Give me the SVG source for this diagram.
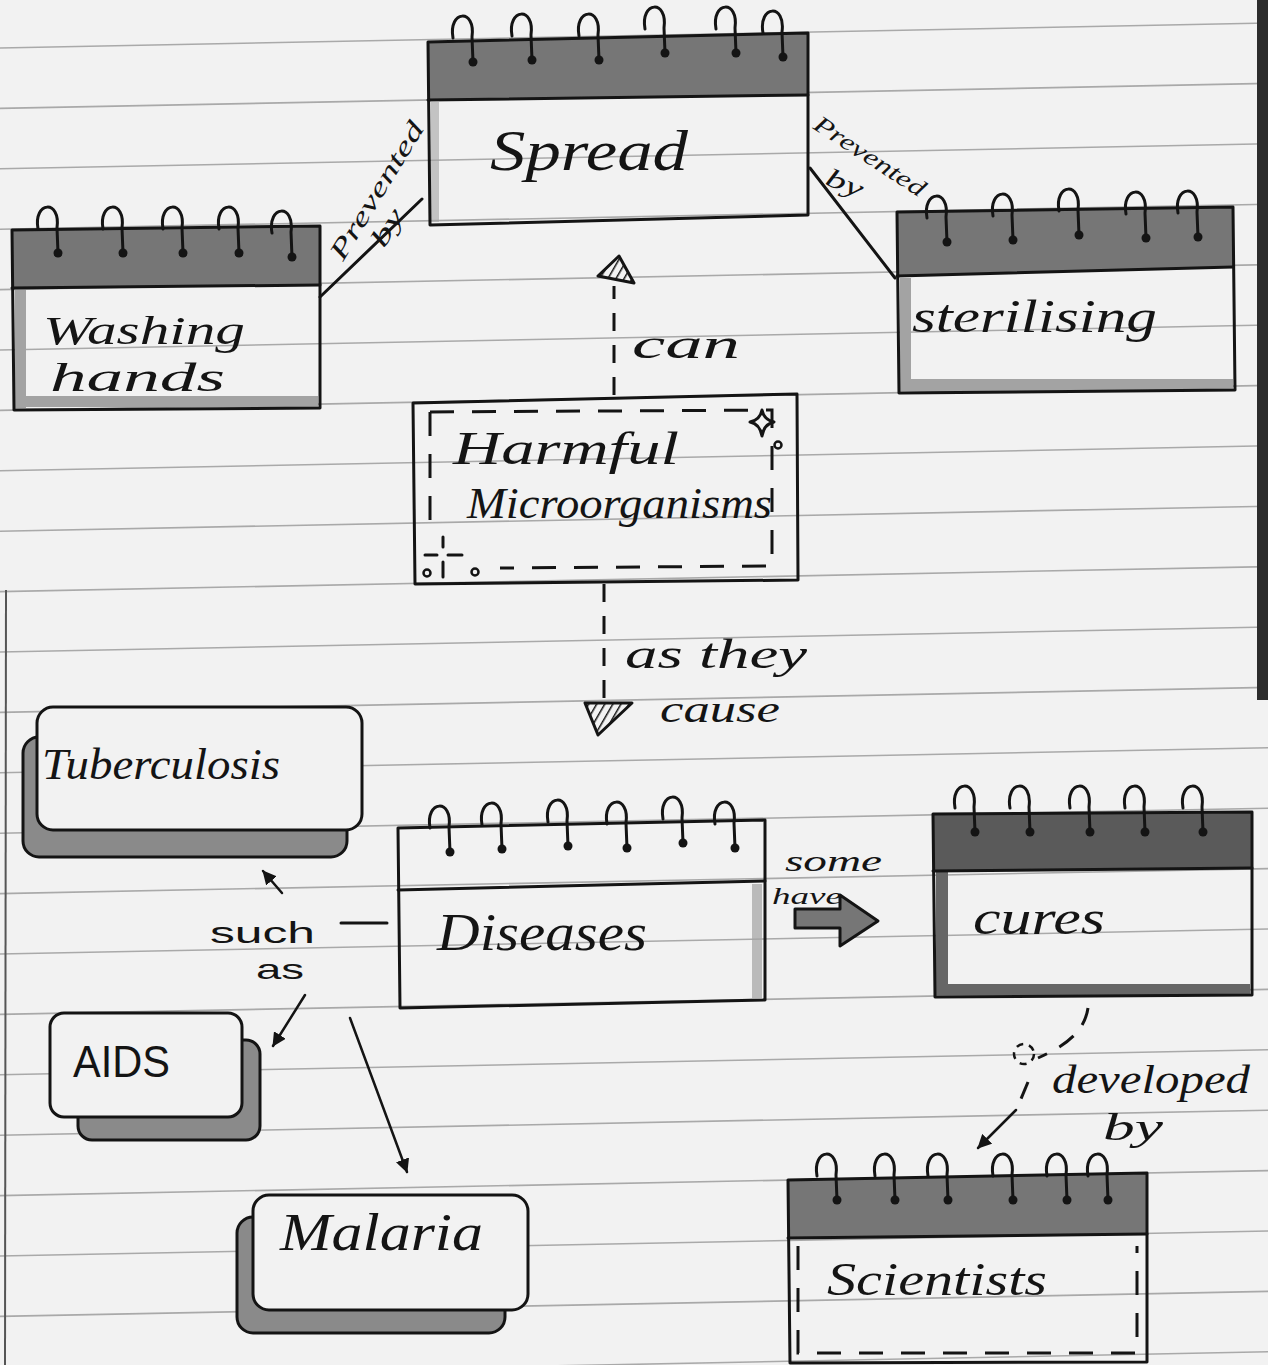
<svg xmlns="http://www.w3.org/2000/svg" width="1268" height="1365" viewBox="0 0 1268 1365">
<style>
.ln{stroke:#141414;stroke-width:3;fill:none;stroke-linecap:round;stroke-linejoin:round}
.thin{stroke:#141414;stroke-width:2.5;fill:none;stroke-linecap:round}
.dash{stroke:#141414;stroke-width:3;fill:none;stroke-dasharray:18 14}
.idash{stroke:#141414;stroke-width:3;fill:none;stroke-dasharray:24 18}
.rule{stroke:#a9a9a9;stroke-width:1.6}
.hdr{fill:#767676}
.hdrd{fill:#5a5a5a}
.shade{fill:#a3a3a3}
.shaded{fill:#666}
.shadow{fill:#8a8a8a;stroke:#141414;stroke-width:3}
.front{fill:#f2f2f2;stroke:#141414;stroke-width:3}
.hw{font-family:"Liberation Serif",serif;font-style:italic;fill:#141414}
.pr{font-family:"Liberation Sans",sans-serif;fill:#141414}
</style>
<defs>
<g id="ring">
<path d="M-20,-24 C-25,-52 3,-54 -1,-25 L0,0" class="ln"/>
<circle cx="0" cy="0" r="4.5" fill="#141414"/>
</g>
<pattern id="hatch" width="7" height="7" patternUnits="userSpaceOnUse" patternTransform="rotate(30)">
<rect width="7" height="7" fill="#f2f2f2"/>
<line x1="0" y1="0" x2="0" y2="7" stroke="#141414" stroke-width="3"/>
</pattern>
<marker id="ah" markerWidth="16" markerHeight="14" refX="13" refY="7" orient="auto" markerUnits="userSpaceOnUse">
<path d="M0,0 L14,7 L0,14 Z" fill="#141414"/>
</marker>
</defs>

<rect width="1268" height="1365" fill="#f2f2f2"/>
<g id="paper">
<line class="rule" x1="0" y1="48" x2="1268" y2="23"/>
<line class="rule" x1="0" y1="108.4" x2="1268" y2="83.4"/>
<line class="rule" x1="0" y1="168.8" x2="1268" y2="143.8"/>
<line class="rule" x1="0" y1="229.2" x2="1268" y2="204.2"/>
<line class="rule" x1="0" y1="289.6" x2="1268" y2="264.6"/>
<line class="rule" x1="0" y1="350" x2="1268" y2="325"/>
<line class="rule" x1="0" y1="410.4" x2="1268" y2="385.4"/>
<line class="rule" x1="0" y1="470.8" x2="1268" y2="445.8"/>
<line class="rule" x1="0" y1="531.2" x2="1268" y2="506.2"/>
<line class="rule" x1="0" y1="591.6" x2="1268" y2="566.6"/>
<line class="rule" x1="0" y1="652" x2="1268" y2="627"/>
<line class="rule" x1="0" y1="712.4" x2="1268" y2="687.4"/>
<line class="rule" x1="0" y1="772.8" x2="1268" y2="747.8"/>
<line class="rule" x1="0" y1="833.2" x2="1268" y2="808.2"/>
<line class="rule" x1="0" y1="893.6" x2="1268" y2="868.6"/>
<line class="rule" x1="0" y1="954" x2="1268" y2="929"/>
<line class="rule" x1="0" y1="1014.4" x2="1268" y2="989.4"/>
<line class="rule" x1="0" y1="1074.8" x2="1268" y2="1049.8"/>
<line class="rule" x1="0" y1="1135.2" x2="1268" y2="1110.2"/>
<line class="rule" x1="0" y1="1195.6" x2="1268" y2="1170.6"/>
<line class="rule" x1="0" y1="1256" x2="1268" y2="1231"/>
<line class="rule" x1="0" y1="1316.4" x2="1268" y2="1291.4"/>
<line class="rule" x1="0" y1="1376.8" x2="1268" y2="1351.8"/>
<line x1="6" y1="590" x2="5" y2="1365" stroke="#555" stroke-width="2"/>
<rect x="1257" y="0" width="11" height="700" fill="#2c2c2c"/>
</g>

<g id="connectors">
<line class="ln" x1="320" y1="297" x2="422" y2="199"/>
<line class="ln" x1="810" y1="168" x2="895" y2="278"/>
<line class="dash" x1="614" y1="395" x2="614" y2="286"/>
<polygon points="619,256 598,276 634,283" fill="url(#hatch)" stroke="#141414" stroke-width="3" stroke-linejoin="round"/>
<line class="dash" x1="604" y1="584" x2="604" y2="702"/>
<polygon points="585,703 632,703 598,735" fill="url(#hatch)" stroke="#141414" stroke-width="3" stroke-linejoin="round"/>
<line class="ln" x1="341" y1="923" x2="387" y2="923"/>
<line class="thin" x1="282" y1="893" x2="263" y2="871" marker-end="url(#ah)"/>
<line class="thin" x1="305" y1="995" x2="273" y2="1046" marker-end="url(#ah)"/>
<line class="thin" x1="350" y1="1018" x2="407" y2="1172" marker-end="url(#ah)"/>
<polygon points="795,909 840,909 840,895 878,921 840,946 840,928 795,928" fill="#767676" stroke="#141414" stroke-width="3" stroke-linejoin="round"/>
<path class="dash" d="M1088,1008 C1084,1035 1060,1048 1038,1058"/>
<circle cx="1024" cy="1054" r="10" fill="none" stroke="#141414" stroke-width="2.5" stroke-dasharray="7 6"/>
<path class="dash" d="M1028,1082 L1018,1106"/>
<line class="thin" x1="1016" y1="1110" x2="978" y2="1148" marker-end="url(#ah)"/>
<text class="hw" font-size="26" x="343" y="262" textLength="157" lengthAdjust="spacingAndGlyphs" transform="rotate(-58.5 343 262)">Prevented</text>
<text class="hw" font-size="26" x="384" y="249" textLength="40" lengthAdjust="spacingAndGlyphs" transform="rotate(-58.5 384 249)">by</text>
<text class="hw" font-size="24" x="812" y="128" textLength="128" lengthAdjust="spacingAndGlyphs" transform="rotate(33 812 128)">Prevented</text>
<text class="hw" font-size="26" x="824" y="184" textLength="38" lengthAdjust="spacingAndGlyphs" transform="rotate(22 824 184)">by</text>
<text class="hw" font-size="42" x="632" y="358" textLength="108" lengthAdjust="spacingAndGlyphs">can</text>
<text class="hw" font-size="42" x="625" y="668" textLength="182" lengthAdjust="spacingAndGlyphs">as they</text>
<text class="hw" font-size="38" x="660" y="722" textLength="120" lengthAdjust="spacingAndGlyphs">cause</text>
<text class="pr" font-size="30" x="210" y="943" textLength="105" lengthAdjust="spacingAndGlyphs">such</text>
<text class="pr" font-size="28" x="256" y="979" textLength="48" lengthAdjust="spacingAndGlyphs">as</text>
<text class="hw" font-size="30" x="785" y="871" textLength="97" lengthAdjust="spacingAndGlyphs">some</text>
<text class="hw" font-size="24" x="772" y="904" textLength="70" lengthAdjust="spacingAndGlyphs">have</text>
<text class="hw" font-size="40" x="1052" y="1093" textLength="198" lengthAdjust="spacingAndGlyphs">developed</text>
<text class="hw" font-size="38" x="1103" y="1140" textLength="60" lengthAdjust="spacingAndGlyphs">by</text>
</g>

<g id="node-spread">
<polygon class="hdr" points="428,42 808,33 808,95 428,100"/>
<rect class="shade" x="431" y="102" width="8" height="120" opacity="0.6"/>
<path class="ln" d="M428,42 L808,33 L808,215 L430,225 Z"/>
<path class="ln" d="M428,100 L808,95"/>
<use href="#ring" x="473" y="62"/>
<use href="#ring" x="532" y="60"/>
<use href="#ring" x="599" y="60"/>
<use href="#ring" x="665" y="53"/>
<use href="#ring" x="736" y="53"/>
<use href="#ring" x="783" y="57"/>
<text class="hw" font-size="58" x="490" y="170" textLength="198" lengthAdjust="spacingAndGlyphs">Spread</text>
</g>

<g id="node-washing">
<polygon class="hdr" points="12,230 320,226 320,285 12,288"/>
<rect class="shade" x="15" y="290" width="11" height="118"/>
<rect class="shade" x="15" y="396" width="303" height="11"/>
<path class="ln" d="M12,230 L320,226 L320,408 L14,410 Z"/>
<path class="ln" d="M12,288 L320,285"/>
<use href="#ring" x="58" y="253"/>
<use href="#ring" x="123" y="253"/>
<use href="#ring" x="183" y="253"/>
<use href="#ring" x="239" y="253"/>
<use href="#ring" x="292" y="257"/>
<text class="hw" font-size="40" x="43" y="344" textLength="202" lengthAdjust="spacingAndGlyphs">Washing</text>
<text class="hw" font-size="40" x="50" y="391" textLength="175" lengthAdjust="spacingAndGlyphs">hands</text>
</g>

<g id="node-sterilising">
<polygon class="hdr" points="897,212 1233,207 1233,267 897,276"/>
<rect class="shade" x="900" y="278" width="11" height="112"/>
<rect class="shade" x="900" y="379" width="333" height="12"/>
<path class="ln" d="M897,212 L1233,207 L1235,390 L899,393 Z"/>
<path class="ln" d="M897,276 L1233,267"/>
<use href="#ring" x="947" y="242"/>
<use href="#ring" x="1013" y="240"/>
<use href="#ring" x="1079" y="235"/>
<use href="#ring" x="1146" y="238"/>
<use href="#ring" x="1198" y="237"/>
<text class="hw" font-size="46" x="912" y="332" textLength="245" lengthAdjust="spacingAndGlyphs">sterilising</text>
</g>

<g id="node-harmful">
<path class="ln" d="M413,403 L797,394 L798,580 L415,584 Z"/>
<path class="idash" d="M430,412 L772,410 L772,566 L500,568"/>
<path class="idash" d="M430,412 L430,530"/>
<path d="M762,410 Q764,420 774,422 Q764,424 762,436 Q760,424 750,422 Q760,420 762,410 Z" fill="#f2f2f2" stroke="#141414" stroke-width="3" stroke-linejoin="round"/>
<circle cx="778" cy="445" r="3.5" fill="none" stroke="#141414" stroke-width="2.5"/>
<path class="ln" d="M443,537 L443,547 M443,562 L443,577 M425,555 L437,555 M448,555 L462,555"/>
<circle cx="427" cy="573" r="3.5" fill="none" stroke="#141414" stroke-width="2.5"/>
<circle cx="475" cy="572" r="3.5" fill="none" stroke="#141414" stroke-width="2.5"/>
<text class="hw" font-size="46" x="453" y="464" textLength="226" lengthAdjust="spacingAndGlyphs">Harmful</text>
<text class="hw" font-size="44" x="467" y="518" textLength="305" lengthAdjust="spacingAndGlyphs">Microorganisms</text>
</g>

<g id="node-diseases">
<rect class="shade" x="752" y="884" width="10" height="114" opacity="0.7"/>
<path class="ln" d="M398,828 L765,820 L765,1000 L400,1008 Z"/>
<path class="ln" d="M398,890 L765,881"/>
<use href="#ring" x="450" y="852"/>
<use href="#ring" x="502" y="849"/>
<use href="#ring" x="568" y="846"/>
<use href="#ring" x="627" y="848"/>
<use href="#ring" x="683" y="843"/>
<use href="#ring" x="735" y="848"/>
<text class="hw" font-size="52" x="437" y="950" textLength="210" lengthAdjust="spacingAndGlyphs">Diseases</text>
</g>

<g id="node-cures">
<polygon class="hdrd" points="933,814 1252,812 1252,868 933,871"/>
<rect class="shaded" x="936" y="872" width="12" height="123"/>
<rect class="shaded" x="936" y="984" width="314" height="11"/>
<path class="ln" d="M933,814 L1252,812 L1252,995 L935,997 Z"/>
<path class="ln" d="M933,871 L1252,868"/>
<use href="#ring" x="975" y="832"/>
<use href="#ring" x="1030" y="832"/>
<use href="#ring" x="1090" y="832"/>
<use href="#ring" x="1145" y="832"/>
<use href="#ring" x="1203" y="832"/>
<text class="hw" font-size="48" x="973" y="934" textLength="132" lengthAdjust="spacingAndGlyphs">cures</text>
</g>

<g id="node-tuberculosis">
<rect class="shadow" x="23" y="737" width="324" height="120" rx="16"/>
<rect class="front" x="37" y="707" width="325" height="123" rx="16"/>
<text class="hw" font-size="44" x="42" y="779" textLength="238" lengthAdjust="spacingAndGlyphs">Tuberculosis</text>
</g>

<g id="node-aids">
<rect class="shadow" x="78" y="1040" width="182" height="100" rx="14"/>
<rect class="front" x="50" y="1013" width="192" height="104" rx="14"/>
<text class="pr" font-size="44" x="73" y="1077" textLength="97" lengthAdjust="spacingAndGlyphs">AIDS</text>
</g>

<g id="node-malaria">
<rect class="shadow" x="237" y="1217" width="268" height="116" rx="16"/>
<rect class="front" x="253" y="1195" width="275" height="115" rx="16"/>
<text class="hw" font-size="52" x="280" y="1250" textLength="203" lengthAdjust="spacingAndGlyphs">Malaria</text>
</g>

<g id="node-scientists">
<polygon class="hdr" points="788,1180 1147,1173 1147,1234 788,1238"/>
<path class="ln" d="M790,1363 L788,1180 L1147,1173 L1147,1362 L790,1363"/>
<path class="ln" d="M788,1238 L1147,1234"/>
<path class="idash" d="M798,1246 L798,1353 L1137,1353 L1137,1246"/>
<use href="#ring" x="837" y="1200"/>
<use href="#ring" x="895" y="1200"/>
<use href="#ring" x="948" y="1200"/>
<use href="#ring" x="1013" y="1200"/>
<use href="#ring" x="1067" y="1200"/>
<use href="#ring" x="1108" y="1200"/>
<text class="hw" font-size="46" x="827" y="1295" textLength="220" lengthAdjust="spacingAndGlyphs">Scientists</text>
</g>
</svg>
